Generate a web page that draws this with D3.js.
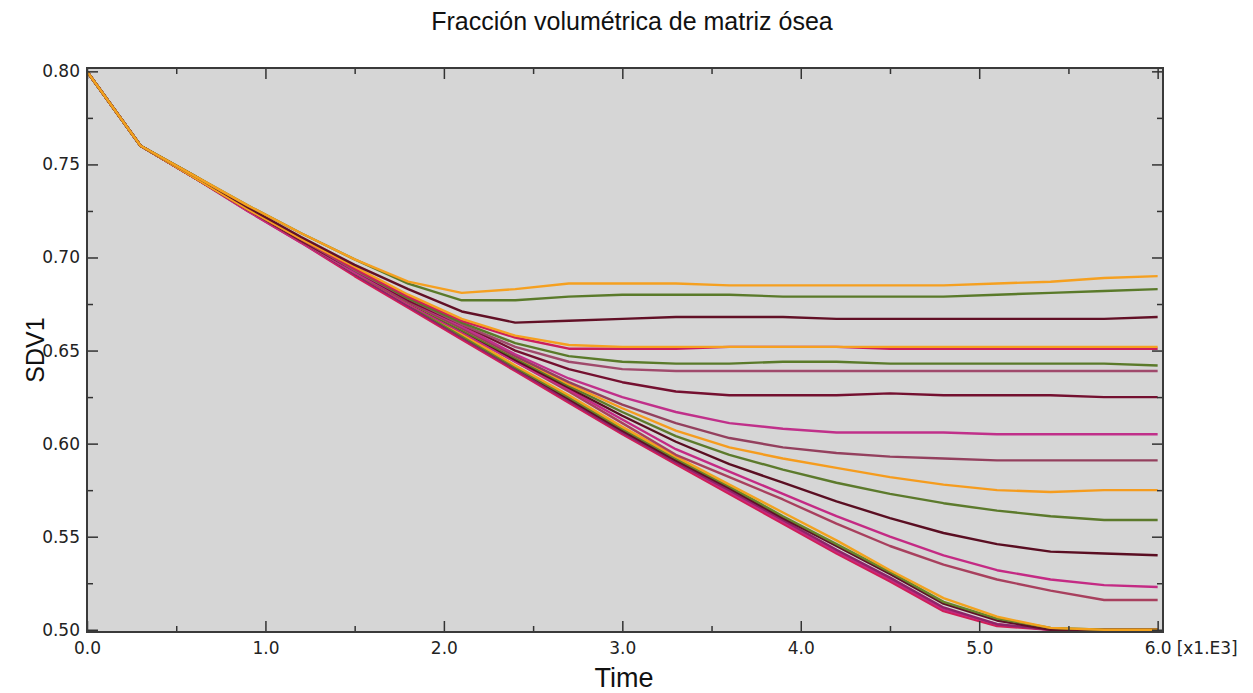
<!DOCTYPE html>
<html>
<head>
<meta charset="utf-8">
<script src="https://cdn.jsdelivr.net/npm/d3@7"></script>
<style>
  body { margin: 0; background: #fff; }
  svg { display: block; }
  .tick text { font-family: "DejaVu Sans", sans-serif; font-size: 17px; fill: #222; }
  .tick line { stroke: #333; stroke-width: 1.5; }
</style>
</head>
<body>
<svg id="chart" width="1253" height="693"></svg>
<script>
// time in [x1.E3]
const times = [0, 0.3, 0.6, 0.9, 1.2, 1.5, 1.8, 2.1, 2.4, 2.7, 3.0, 3.3, 3.6, 3.9, 4.2, 4.5, 4.8, 5.1, 5.4, 5.7, 6.0];

// SDV1 curves, top plateau to bottom
const sdvOrangeTop   = [0.800,0.760,0.744,0.728,0.713,0.699,0.687,0.681,0.683,0.686,0.686,0.686,0.685,0.685,0.685,0.685,0.685,0.686,0.687,0.689,0.690];
const sdvGreenTop    = [0.800,0.760,0.744,0.728,0.713,0.699,0.686,0.677,0.677,0.679,0.680,0.680,0.680,0.679,0.679,0.679,0.679,0.680,0.681,0.682,0.683];
const sdvMaroonTop   = [0.800,0.760,0.744,0.727,0.711,0.696,0.683,0.671,0.665,0.666,0.667,0.668,0.668,0.668,0.667,0.667,0.667,0.667,0.667,0.667,0.668];
const sdvOrangeMid   = [0.800,0.760,0.743,0.726,0.710,0.695,0.680,0.667,0.658,0.653,0.652,0.652,0.652,0.652,0.652,0.652,0.652,0.652,0.652,0.652,0.652];
const sdvCrimson     = [0.800,0.760,0.743,0.726,0.710,0.694,0.679,0.666,0.657,0.651,0.651,0.651,0.652,0.652,0.652,0.651,0.651,0.651,0.651,0.651,0.651];
const sdvGreenMid    = [0.800,0.760,0.743,0.726,0.710,0.694,0.678,0.665,0.654,0.647,0.644,0.643,0.643,0.644,0.644,0.643,0.643,0.643,0.643,0.643,0.642];
const sdvMauve       = [0.800,0.760,0.743,0.726,0.710,0.693,0.678,0.664,0.652,0.644,0.640,0.639,0.639,0.639,0.639,0.639,0.639,0.639,0.639,0.639,0.639];
const sdvDarkRed     = [0.800,0.760,0.743,0.726,0.709,0.693,0.677,0.664,0.650,0.640,0.633,0.628,0.626,0.626,0.626,0.627,0.626,0.626,0.626,0.625,0.625];
const sdvMagentaMid  = [0.800,0.760,0.743,0.726,0.709,0.692,0.677,0.663,0.648,0.635,0.625,0.617,0.611,0.608,0.606,0.606,0.606,0.605,0.605,0.605,0.605];
const sdvMauveLow    = [0.800,0.760,0.743,0.726,0.709,0.692,0.676,0.662,0.647,0.633,0.621,0.611,0.603,0.598,0.595,0.593,0.592,0.591,0.591,0.591,0.591];
const sdvOrangeLow   = [0.800,0.760,0.743,0.726,0.709,0.692,0.676,0.662,0.647,0.632,0.619,0.607,0.598,0.592,0.587,0.582,0.578,0.575,0.574,0.575,0.575];
const sdvGreenLow    = [0.800,0.760,0.743,0.726,0.709,0.692,0.676,0.661,0.646,0.631,0.617,0.604,0.594,0.586,0.579,0.573,0.568,0.564,0.561,0.559,0.559];
const sdvMaroonLow   = [0.800,0.760,0.743,0.726,0.709,0.692,0.676,0.661,0.645,0.630,0.615,0.601,0.589,0.579,0.569,0.560,0.552,0.546,0.542,0.541,0.540];
const sdvMagentaLow  = [0.800,0.760,0.743,0.726,0.709,0.692,0.675,0.660,0.644,0.629,0.613,0.597,0.585,0.573,0.561,0.550,0.540,0.532,0.527,0.524,0.523];
const sdvBrownLow    = [0.800,0.760,0.743,0.726,0.709,0.692,0.675,0.660,0.644,0.628,0.611,0.594,0.582,0.570,0.557,0.545,0.535,0.527,0.521,0.516,0.516];
// bundle that reaches the 0.50 floor
const sdvFloorOrange = [0.800,0.760,0.744,0.727,0.710,0.693,0.676,0.659,0.642,0.626,0.609,0.593,0.578,0.563,0.548,0.532,0.517,0.507,0.501,0.500,0.500];
const sdvFloorGreen  = [0.800,0.760,0.744,0.726,0.709,0.692,0.675,0.658,0.641,0.625,0.608,0.592,0.577,0.561,0.546,0.531,0.515,0.506,0.501,0.500,0.500];
const sdvFloorDark   = [0.800,0.760,0.743,0.726,0.709,0.692,0.675,0.658,0.641,0.624,0.607,0.591,0.576,0.560,0.545,0.530,0.514,0.505,0.500,0.500,0.500];
const sdvFloorPurple = [0.800,0.760,0.743,0.726,0.709,0.691,0.674,0.657,0.640,0.623,0.606,0.590,0.575,0.559,0.543,0.528,0.512,0.503,0.500,0.500,0.500];
const sdvFloorMagenta= [0.800,0.760,0.743,0.725,0.708,0.691,0.674,0.657,0.640,0.623,0.606,0.590,0.574,0.558,0.542,0.527,0.511,0.503,0.500,0.500,0.500];
const sdvFloorCrimson= [0.800,0.760,0.743,0.725,0.708,0.690,0.673,0.656,0.639,0.622,0.605,0.589,0.573,0.557,0.541,0.526,0.510,0.502,0.500,0.500,0.500];

const xTicks = [0, 1, 2, 3, 4, 5, 6];
const xMinor = [0.5, 1.5, 2.5, 3.5, 4.5, 5.5];
const yTicks = [0.50, 0.55, 0.60, 0.65, 0.70, 0.75, 0.80];
const yMinor = [0.525, 0.575, 0.625, 0.675, 0.725, 0.775];

const titleText = "Fracción volumétrica de matriz ósea";
const xTitle = "Time";
const yTitle = "SDV1";
const xUnit = "[x1.E3]";

const curves = [
  {v: sdvFloorCrimson, c: "#d01e58"},
  {v: sdvFloorMagenta, c: "#c4287e"},
  {v: sdvFloorPurple,  c: "#8e2468"},
  {v: sdvFloorDark,    c: "#5e1028"},
  {v: sdvFloorGreen,   c: "#66852c"},
  {v: sdvFloorOrange,  c: "#f2a21e"},
  {v: sdvBrownLow,     c: "#a8405e"},
  {v: sdvMagentaLow,   c: "#c42a84"},
  {v: sdvMaroonLow,    c: "#5a0e22"},
  {v: sdvGreenLow,     c: "#5c7a2c"},
  {v: sdvOrangeLow,    c: "#f59c1e"},
  {v: sdvMauveLow,     c: "#94405e"},
  {v: sdvMagentaMid,   c: "#c0308a"},
  {v: sdvDarkRed,      c: "#741030"},
  {v: sdvMauve,        c: "#a04a6c"},
  {v: sdvGreenMid,     c: "#5a7a2a"},
  {v: sdvCrimson,      c: "#cc1e5c"},
  {v: sdvOrangeMid,    c: "#f5a020"},
  {v: sdvMaroonTop,    c: "#621026"},
  {v: sdvGreenTop,     c: "#5a7a2a"},
  {v: sdvOrangeTop,    c: "#f5a020"}
];

const svg = d3.select("#chart");
const plotL = 87, plotR = 1163, plotT = 68, plotB = 632;

const x = d3.scaleLinear().domain([0, 6.03]).range([plotL, plotR]);
const y = d3.scaleLinear().domain([0.4988, 0.8018]).range([plotB, plotT]);

svg.append("rect")
  .attr("x", plotL).attr("y", plotT)
  .attr("width", plotR - plotL).attr("height", plotB - plotT)
  .attr("fill", "#d6d6d6");

svg.append("clipPath").attr("id", "plotclip")
  .append("rect").attr("x", plotL).attr("y", plotT - 2)
  .attr("width", plotR - plotL).attr("height", plotB - plotT + 1);

const line = d3.line()
  .x((d, i) => x(times[i]))
  .y(d => y(d));

svg.append("g").attr("clip-path", "url(#plotclip)")
  .selectAll("path").data(curves).join("path")
  .attr("d", d => line(d.v))
  .attr("fill", "none")
  .attr("stroke", d => d.c)
  .attr("stroke-width", 2.4)
  .attr("stroke-linejoin", "round");

// axes with inward ticks on all four sides
function clean(g) { g.select(".domain").remove(); }

svg.append("g").attr("transform", `translate(0,${plotB})`)
  .call(d3.axisBottom(x).tickValues(xTicks).tickSize(-11).tickPadding(10).tickFormat(d3.format(".1f")))
  .call(clean);
svg.append("g").attr("transform", `translate(0,${plotB})`)
  .call(d3.axisBottom(x).tickValues(xMinor).tickSize(-6).tickFormat(""))
  .call(clean);
svg.append("g").attr("transform", `translate(0,${plotT})`)
  .call(d3.axisTop(x).tickValues(xTicks).tickSize(-11).tickFormat(""))
  .call(clean);
svg.append("g").attr("transform", `translate(0,${plotT})`)
  .call(d3.axisTop(x).tickValues(xMinor).tickSize(-6).tickFormat(""))
  .call(clean);

svg.append("g").attr("transform", `translate(${plotL},0)`)
  .call(d3.axisLeft(y).tickValues(yTicks).tickSize(-11).tickPadding(7).tickFormat(d3.format(".2f")))
  .call(clean);
svg.append("g").attr("transform", `translate(${plotL},0)`)
  .call(d3.axisLeft(y).tickValues(yMinor).tickSize(-6).tickFormat(""))
  .call(clean);
svg.append("g").attr("transform", `translate(${plotR},0)`)
  .call(d3.axisRight(y).tickValues(yTicks).tickSize(-11).tickFormat(""))
  .call(clean);
svg.append("g").attr("transform", `translate(${plotR},0)`)
  .call(d3.axisRight(y).tickValues(yMinor).tickSize(-6).tickFormat(""))
  .call(clean);

svg.append("rect")
  .attr("x", plotL).attr("y", plotT)
  .attr("width", plotR - plotL).attr("height", plotB - plotT)
  .attr("fill", "none").attr("stroke", "#3a3a3a").attr("stroke-width", 2);

svg.append("text")
  .attr("x", x(6) + 19).attr("y", 654)
  .attr("font-family", "DejaVu Sans, sans-serif").attr("font-size", 17)
  .attr("fill", "#222")
  .text(xUnit);

svg.append("text")
  .attr("x", 632).attr("y", 30)
  .attr("text-anchor", "middle")
  .attr("font-family", "Liberation Sans, Arial, sans-serif").attr("font-size", 25)
  .attr("fill", "#111")
  .text(titleText);

svg.append("text")
  .attr("x", 624).attr("y", 687)
  .attr("text-anchor", "middle")
  .attr("font-family", "Liberation Sans, Arial, sans-serif").attr("font-size", 27)
  .attr("fill", "#111")
  .text(xTitle);

svg.append("text")
  .attr("transform", "translate(44,350) rotate(-90)")
  .attr("text-anchor", "middle")
  .attr("font-family", "Liberation Sans, Arial, sans-serif").attr("font-size", 25)
  .attr("fill", "#111")
  .text(yTitle);
</script>
</body>
</html>
